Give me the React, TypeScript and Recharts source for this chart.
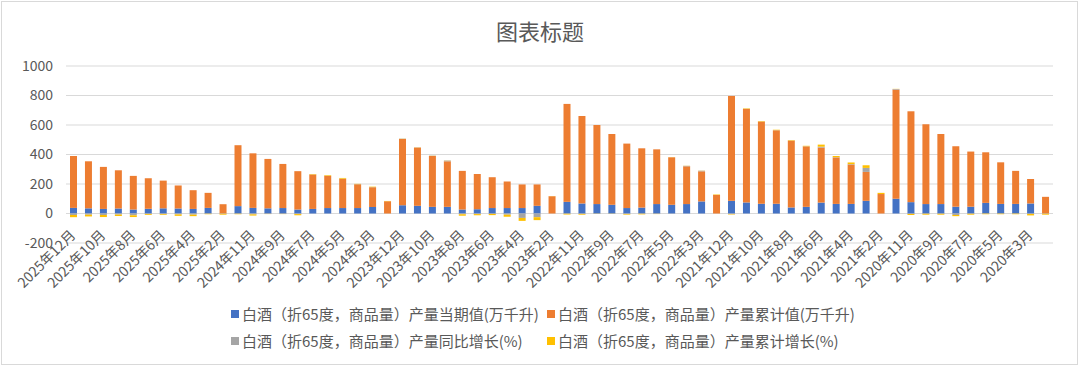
import React from "react";
import { BarChart, Bar, XAxis, YAxis, CartesianGrid } from "recharts";

const categories = [
  "2025年12月", "2025年11月", "2025年10月", "2025年9月", "2025年8月", "2025年7月",
  "2025年6月", "2025年5月", "2025年4月", "2025年3月", "2025年2月",
  "2024年12月", "2024年11月", "2024年10月", "2024年9月", "2024年8月", "2024年7月",
  "2024年6月", "2024年5月", "2024年4月", "2024年3月", "2024年2月",
  "2023年12月", "2023年11月", "2023年10月", "2023年9月", "2023年8月", "2023年7月",
  "2023年6月", "2023年5月", "2023年4月", "2023年3月", "2023年2月",
  "2022年12月", "2022年11月", "2022年10月", "2022年9月", "2022年8月", "2022年7月",
  "2022年6月", "2022年5月", "2022年4月", "2022年3月", "2022年2月",
  "2021年12月", "2021年11月", "2021年10月", "2021年9月", "2021年8月", "2021年7月",
  "2021年6月", "2021年5月", "2021年4月", "2021年3月", "2021年2月",
  "2020年12月", "2020年11月", "2020年10月", "2020年9月", "2020年8月", "2020年7月",
  "2020年6月", "2020年5月", "2020年4月", "2020年3月", "2020年2月",
];

// 当期值 (万千升)
const current = [
  38, 35, 31, 34, 27, 32, 35, 34, 31, 38, 0,
  50, 38, 35, 37, 27, 31, 37, 37, 37, 44, 0,
  56, 52, 45, 45, 27, 29, 37, 37, 37, 52, 0,
  79, 68, 64, 59, 37, 40, 64, 59, 64, 82, 0,
  86, 75, 66, 66, 41, 45, 74, 65, 65, 86, 0,
  100, 77, 64, 64, 46, 46, 72, 65, 65, 68, 0,
];

// 累计值 (万千升)
const cumulative = [
  352, 319, 285, 259, 228, 207, 188, 156, 127, 102, 63,
  413, 370, 335, 299, 260, 233, 218, 197, 161, 134, 83,
  449, 395, 345, 309, 262, 239, 209, 180, 160, 145, 117,
  664, 593, 536, 480, 437, 402, 371, 322, 256, 204, 126,
  711, 634, 557, 498, 453, 410, 373, 315, 267, 196, 132,
  740, 616, 541, 475, 410, 374, 343, 282, 224, 166, 113,
];

// 同比增长 (%)
const yoy = [
  -10, -8, -10, -7, -12, -3, -4, -6, -8, -2, -2,
  -2, -6, -3, -3, -4, 1, 1, 2, 1, 1, 0,
  2, 1, 2, 5, -5, -4, -3, -8, -30, -25, 0,
  -2, -3, -1, -1, -4, -2, -3, -1, 3, 4, 0,
  -4, 1, 1, 1, 1, 1, 6, 2, 3, 27, 0,
  4, -3, -2, -2, -10, -2, -1, -1, -1, -3, -2,
];

// 累计增长 (%)
const cumGrowth = [
  -15, -12, -14, -10, -12, -6, -5, -10, -10, -3, -6,
  -3, -8, -1, -1, -8, 3, 4, 5, 2, 3, 2,
  1, 1, 1, 1, -10, -8, -8, -14, -20, -20, 1,
  -5, -5, -1, -1, -4, -4, -1, 1, 1, 1, 3,
  -3, 3, 3, 3, 3, 3, 14, 8, 11, 18, 8,
  1, -7, -6, -6, -8, -6, -4, -4, -4, -10, -6,
];

const yTicks = [-200, 0, 200, 400, 600, 800, 1000];

const series = [
  { key: "current", name: "白酒（折65度，商品量）产量当期值(万千升)", color: "#4472C4" },
  { key: "cumulative", name: "白酒（折65度，商品量）产量累计值(万千升)", color: "#ED7D31" },
  { key: "yoy", name: "白酒（折65度，商品量）产量同比增长(%)", color: "#A5A5A5" },
  { key: "cumGrowth", name: "白酒（折65度，商品量）产量累计增长(%)", color: "#FFC000" },
];

const data = categories.map((name, i) => ({
  name,
  current: current[i],
  cumulative: cumulative[i],
  yoy: yoy[i],
  cumGrowth: cumGrowth[i],
}));

const FONT = '"Noto Sans CJK SC", "Noto Sans", sans-serif';
const TEXT = "#595959";

function XTick(props: any) {
  const { x, y, payload } = props;
  const tx = x + 3;
  const ty = y - 7;
  return (
    <text
      x={tx}
      y={ty}
      transform={`rotate(-45, ${tx}, ${ty})`}
      textAnchor="end"
      fill={TEXT}
      fontSize={14}
      fontFamily={FONT}
    >
      {payload.value}
    </text>
  );
}

export default function App() {
  return (
    <div
      style={{
        position: "absolute",
        left: 0,
        top: 0,
        width: 1080,
        height: 366,
        background: "#fff",
        fontFamily: FONT,
      }}
    >
      <div
        style={{
          position: "absolute",
          left: 1,
          top: 1,
          width: 1075,
          height: 362,
          border: "1px solid #D9D9D9",
        }}
      />
      <div
        style={{
          position: "absolute",
          top: 14,
          width: 1080,
          textAlign: "center",
          fontSize: 22,
          color: TEXT,
        }}
      >
        图表标题
      </div>
      <BarChart
        width={1080}
        height={366}
        data={data}
        stackOffset="sign"
        barSize={7}
        margin={{ top: 66, right: 27, left: 6, bottom: 0 }}
      >
        <CartesianGrid vertical={false} stroke="#D9D9D9" />
        <XAxis
          dataKey="name"
          interval={1}
          height={123}
          tickLine={false}
          axisLine={false}
          tickSize={0}
          tickMargin={0}
          tick={<XTick />}
        />
        <YAxis
          domain={[-200, 1000]}
          ticks={yTicks}
          width={60}
          tickLine={false}
          axisLine={false}
          tickSize={0}
          tickMargin={13}
          tick={{ fontSize: 14, fill: TEXT, fontFamily: FONT }}
        />
        {series.map((s) => (
          <Bar
            key={s.key}
            dataKey={s.key}
            name={s.name}
            stackId="a"
            fill={s.color}
            isAnimationActive={false}
          />
        ))}
      </BarChart>
      <div
        style={{
          position: "absolute",
          left: 231,
          top: 304,
          display: "grid",
          gridTemplateColumns: "316px auto",
          rowGap: 7,
          fontSize: 15,
          color: TEXT,
          lineHeight: "20px",
        }}
      >
        {series.map((s) => (
          <div key={s.key} style={{ display: "flex", alignItems: "center", whiteSpace: "nowrap" }}>
            <span
              style={{
                display: "inline-block",
                width: 8,
                height: 8,
                background: s.color,
                marginRight: 3,
              }}
            />
            {s.name}
          </div>
        ))}
      </div>
    </div>
  );
}
